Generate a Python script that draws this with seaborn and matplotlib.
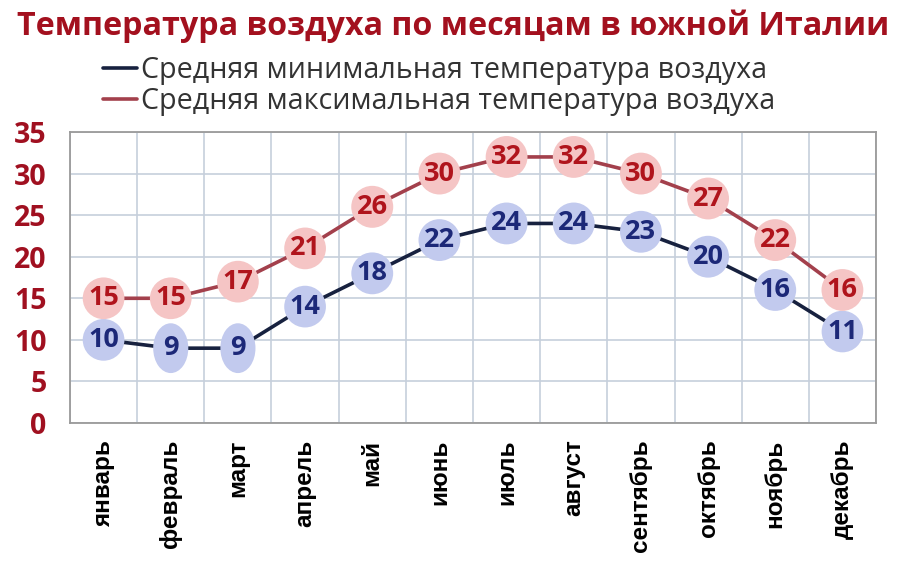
import matplotlib
matplotlib.use("Agg")
import matplotlib.pyplot as plt
import seaborn as sns
import pandas as pd
import numpy as np

months = ["январь", "февраль", "март", "апрель", "май", "июнь",
          "июль", "август", "сентябрь", "октябрь", "ноябрь", "декабрь"]
t_min = [10, 9, 9, 14, 18, 22, 24, 24, 23, 20, 16, 11]
t_max = [15, 15, 17, 21, 26, 30, 32, 32, 30, 27, 22, 16]
label_min = "Средняя минимальная температура воздуха"
label_max = "Средняя максимальная температура воздуха"
title = "Температура воздуха по месяцам в южной Италии"
y_ticks = [0, 5, 10, 15, 20, 25, 30, 35]

sns.set_theme(style="white")
plt.rcParams['font.family'] = ['Open Sans', 'DejaVu Sans']

df = pd.DataFrame({
    "pos": list(range(len(months))) * 2,
    "temp": t_min + t_max,
    "series": [label_min] * len(months) + [label_max] * len(months),
})

fig = plt.figure(figsize=(9, 5.88), dpi=100)
ax = fig.add_axes([70 / 900, 165 / 588, 806 / 900, 291 / 588])

line_colors = {label_min: "#17213f", label_max: "#a3404c"}
sns.lineplot(data=df, x="pos", y="temp", hue="series", palette=line_colors,
             linewidth=2.6, sort=False, ax=ax, zorder=2)

# labels with circular backgrounds
for ser, txt_col, bg in [(label_min, "#1c2878", "#c2caee"),
                         (label_max, "#b0141c", "#f5c5c5")]:
    sub = df[df["series"] == ser]
    for p, v in zip(sub["pos"], sub["temp"]):
        s = str(v)
        style = "circle,pad=0.2" if len(s) > 1 else "ellipse,pad=0.17"
        ax.text(p, v, s, ha="center", va="center", fontsize=19.5,
                fontweight="bold", color=txt_col, zorder=4,
                bbox=dict(boxstyle=style, fc=bg, ec="none"))

ax.set_xlim(-0.5, len(months) - 0.5)
ax.set_ylim(0, 35)
ax.set_yticks(y_ticks)
ax.set_yticklabels([str(t) for t in y_ticks], fontsize=20.5, fontweight="bold",
                   color="#a01020")
ax.set_xticks(range(len(months)))
ax.set_xticklabels(months, rotation=90, fontsize=17.5, fontweight="bold",
                   family=["Liberation Sans", "DejaVu Sans"], color="black",
                   va="top", ha="center")
ax.set_xticks(np.arange(-0.5, len(months), 1.0), minor=True)
ax.tick_params(axis="y", length=0, pad=17)
ax.tick_params(axis="x", which="both", length=0, pad=12)
ax.grid(False)
ax.grid(True, axis="y", which="major", color="#c6cfdb", linewidth=1.2)
ax.grid(True, axis="x", which="minor", color="#c6cfdb", linewidth=1.2)
ax.set_axisbelow(True)
for s in ax.spines.values():
    s.set_color("#9a9a9a")
    s.set_linewidth(1.3)
ax.set_xlabel("")
ax.set_ylabel("")

handles, labels = ax.get_legend_handles_labels()
ax.get_legend().remove()
fig.legend(handles, labels, loc="center", bbox_to_anchor=(439 / 900, 1 - 86 / 588),
           frameon=False, fontsize=20.6, handlelength=1.2, handletextpad=0.15,
           labelspacing=0.1, labelcolor="#333333")

fig.text(453 / 900, 1 - 26 / 588, title, ha="center", va="center",
         fontsize=23.2, fontweight="bold", color="#a3101e")

fig.savefig("out.png", dpi=100, facecolor="white")
